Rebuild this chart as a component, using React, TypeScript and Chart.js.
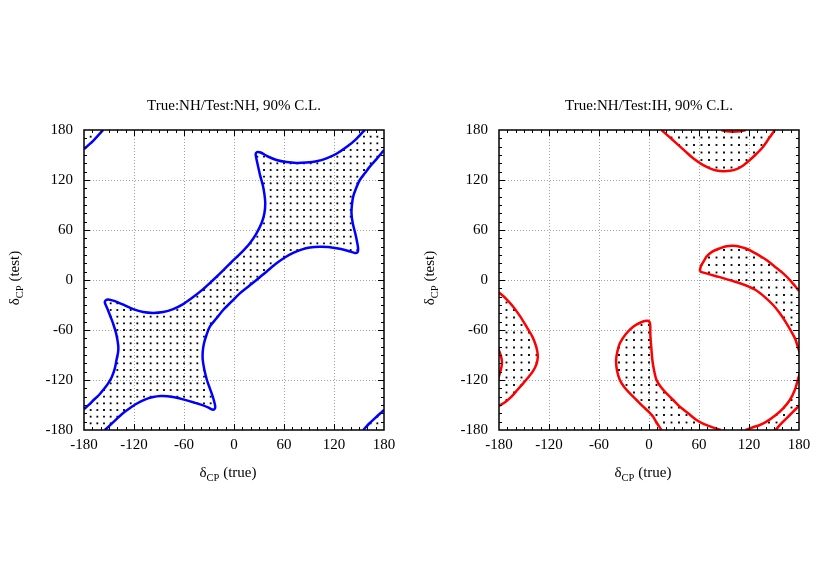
import React, { useEffect, useRef } from "react";
import { Chart, registerables } from "chart.js";

Chart.register(...registerables);

type Pt = [number, number];

// ---------- axes / text ----------
const AXIS_MIN = -180;
const AXIS_MAX = 180;
const AXIS_TICKS = [-180, -120, -60, 0, 60, 120, 180];
const MINOR_TICK_STEP = 10;
const TITLE_NH = "True:NH/Test:NH, 90% C.L.";
const TITLE_IH = "True:NH/Test:IH, 90% C.L.";
const X_LABEL = ["δ", "CP", " (true)"];
const Y_LABEL = ["δ", "CP", " (test)"];

// ---------- left panel: True NH / Test NH (blue contour) ----------
const nhUpper: Pt[] = [
  [-180, -155], [-174, -149.5], [-168.5, -144], [-162, -138], [-157, -132], [-151, -124],
  [-146.5, -116], [-143, -106], [-141, -96], [-139, -86], [-139, -78], [-141.5, -64],
  [-144.5, -54], [-147, -47], [-150.5, -38], [-153, -32], [-155, -27], [-154, -24.5],
  [-151, -23.5], [-146, -24.5], [-140, -26.5], [-131, -30.5], [-121, -35], [-109, -38.5],
  [-97, -39.5], [-85, -38.5], [-73, -35], [-61, -29], [-49, -20.5], [-37, -11], [-25, 0],
  [-13, 11.5], [-1, 23.5], [10, 34], [19, 44], [27, 56], [33, 68], [36.5, 80], [37.5, 92],
  [36.5, 103], [34.5, 114], [31.5, 125], [29, 136], [27, 145], [26, 151], [27.5, 153.5],
  [32, 153], [40, 148.5], [51, 144], [63, 141.5], [75, 140.5], [87, 141], [99, 142.5],
  [111, 146], [123, 151.5], [135, 159.5], [146, 168.5], [155, 178], [157, 180],
];
const nhLower: Pt[] = [
  [-155, -180], [-148, -173.5], [-141, -167], [-134, -160.5], [-126, -154.5], [-117, -148.5],
  [-107, -143.5], [-97, -140.5], [-88, -139.3], [-80, -139.5], [-70, -141], [-60, -143.5],
  [-48, -147], [-37, -150.5], [-30, -153.5], [-26, -155.5], [-23.5, -155], [-22.5, -152],
  [-23.5, -147], [-25.5, -140], [-29, -130], [-32.5, -120], [-35.5, -108], [-37.5, -96],
  [-37.5, -86], [-36, -76], [-33, -66], [-29, -56], [-21, -46], [-13, -36], [-3, -26],
  [7, -16], [17, -8], [27, 0], [39, 10], [51, 20], [61, 27], [71, 32.5], [81, 36.5],
  [91, 39], [103, 40], [113, 39.5], [123, 38], [133, 36], [140, 34], [145, 32.5], [148, 33],
  [149, 37], [148, 44], [145.5, 56], [142.5, 68], [141, 80], [141.5, 90], [143, 100],
  [146.5, 110], [151, 120], [157, 128], [163, 136], [171, 145], [178, 153.5], [180, 156],
];
const nhCornerTL: Pt[] = [[-157, 180], [-163, 173.5], [-169, 167], [-175, 161.5], [-180, 157]];
const nhCornerBR: Pt[] = [[180, -156], [175, -160.5], [169, -166], [162, -172.5], [155, -180]];
const NH_DOT_STEP = 8;

// ---------- right panel: True NH / Test IH (red contour) ----------
const ihTop: Pt[] = [
  [15, 180], [24, 172], [33, 164], [43, 155], [53, 146], [63, 139], [73, 134], [81, 131.5],
  [89, 130.5], [97, 131], [105, 133], [113, 137.5], [121, 144], [129, 151.5], [137, 160],
  [144, 170], [151, 180],
];
const ihTopArc: Pt[] = [[116, 180], [109, 178.4], [101, 177.9], [93, 178.4], [87, 180]];
const ihMid: Pt[] = [
  [15, -180], [9, -171], [5, -164], [-1, -157.5], [-7, -152], [-15, -144], [-23, -136],
  [-30, -128], [-35, -120], [-38.5, -108], [-39.5, -96], [-38, -86], [-35, -76], [-28, -65],
  [-19, -56], [-10, -51], [-3, -49], [0.5, -50], [1.5, -55], [1.5, -62], [2, -72], [3, -84],
  [4, -96], [6, -108], [9, -120], [14, -128], [21, -136], [29, -144], [37, -152], [47, -160],
  [57, -168], [66, -173], [74, -176], [80, -178], [86, -180],
];
const ihCRight: Pt[] = [
  [116, -180], [124, -177], [133, -174], [141, -170], [151, -163], [161, -154], [169, -144],
  [175, -132], [178.5, -120], [181, -112], [183, -104], [183.5, -98], [182.5, -92],
  [180.5, -86], [178.5, -80], [176, -72], [172, -64], [165, -52], [157, -40], [149, -30],
  [139, -20.5], [128, -12], [115, -6], [100, -1], [85, 3.5], [72, 7], [61, 10],
];
const ihOuter: Pt[] = [
  [61, 10], [61.5, 14], [63, 18], [66, 23], [69, 28], [76, 34], [85, 38], [93, 40.5],
  [101, 41], [109, 40], [117, 37.5], [125, 33.5], [133, 29], [141, 24], [151, 16], [161, 8],
  [170, -1], [180, -13],
];
const ihLeft: Pt[] = [
  [-180, -15], [-172, -22], [-163, -32], [-155, -43], [-147, -56], [-140, -68], [-136, -78],
  [-134, -86], [-133.5, -93], [-135, -101], [-139, -109], [-145, -117], [-151, -124],
  [-158, -132], [-165, -140], [-172, -146], [-180, -151],
];
const ihCornerBR: Pt[] = [[180, -151], [173, -158], [165, -166], [158, -173], [152, -180]];
const IH_DOT_STEP = 9;

// ---------- helpers ----------
const FONT = "'Liberation Serif', 'Times New Roman', Times, serif";

function inPoly(x: number, y: number, poly: Pt[]): boolean {
  let inside = false;
  for (let i = 0, j = poly.length - 1; i < poly.length; j = i++) {
    const [xi, yi] = poly[i];
    const [xj, yj] = poly[j];
    if (yi > y !== yj > y && x < ((xj - xi) * (y - yi)) / (yj - yi) + xi) inside = !inside;
  }
  return inside;
}

function hatch(step: number, keep: (x: number, y: number) => boolean) {
  const pts: { x: number; y: number }[] = [];
  for (let x = AXIS_MIN + step; x < AXIS_MAX - 1e-6; x += step)
    for (let y = AXIS_MIN + step; y < AXIS_MAX - 1e-6; y += step)
      if (keep(x, y)) pts.push({ x, y });
  return pts;
}

const nhExcluded: Pt[][] = [[...nhUpper, ...nhCornerTL], [...nhLower, ...nhCornerBR]];
const nhDots = hatch(NH_DOT_STEP, (x, y) => !nhExcluded.some((p) => inPoly(x, y, p)));

const ihAllowed: Pt[][] = [
  [...ihTop, ...ihTopArc],
  ihMid,
  [...ihOuter, ...ihCornerBR, ...ihCRight],
  ihLeft,
];
const ihDots = hatch(IH_DOT_STEP, (x, y) => ihAllowed.some((p) => inPoly(x, y, p)));
// the right-hand contour wraps around delta = +-180 (periodic axis)
const ihCRightWrapped: Pt[] = ihCRight.map(([x, y]) => [x - 360, y]);

function drawLabel(ctx: CanvasRenderingContext2D, parts: string[], cx: number, base: number) {
  const main = `15px ${FONT}`;
  const sub = `10.5px ${FONT}`;
  ctx.font = main;
  const w0 = ctx.measureText(parts[0]).width;
  const w2 = ctx.measureText(parts[2]).width;
  ctx.font = sub;
  const w1 = ctx.measureText(parts[1]).width;
  let x = cx - (w0 + w1 + w2) / 2;
  ctx.textAlign = "left";
  ctx.textBaseline = "alphabetic";
  ctx.font = main;
  ctx.fillText(parts[0], x, base);
  x += w0;
  ctx.font = sub;
  ctx.fillText(parts[1], x, base + 4);
  x += w1;
  ctx.font = main;
  ctx.fillText(parts[2], x, base);
}

type Spec = { title: string; color: string; curves: Pt[][]; dots: { x: number; y: number }[] };

function buildChart(canvas: HTMLCanvasElement, spec: Spec) {
  const framePlugin = {
    id: "gnuplotFrame",
    beforeDatasetsDraw(chart: any) {
      const { ctx, chartArea: a, scales } = chart;
      ctx.save();
      ctx.strokeStyle = "#a0a0a0";
      ctx.lineWidth = 1;
      ctx.setLineDash([1, 2]);
      for (const v of AXIS_TICKS) {
        if (v === AXIS_MIN || v === AXIS_MAX) continue;
        const px = Math.round(scales.x.getPixelForValue(v)) + 0.5;
        const py = Math.round(scales.y.getPixelForValue(v)) + 0.5;
        ctx.beginPath();
        ctx.moveTo(px, a.top);
        ctx.lineTo(px, a.bottom);
        ctx.moveTo(a.left, py);
        ctx.lineTo(a.right, py);
        ctx.stroke();
      }
      ctx.restore();
    },
    afterDatasetsDraw(chart: any) {
      const { ctx, chartArea: a, scales } = chart;
      ctx.save();
      ctx.strokeStyle = "#000";
      ctx.lineWidth = 1;
      ctx.beginPath();
      for (let v = AXIS_MIN + MINOR_TICK_STEP; v < AXIS_MAX; v += MINOR_TICK_STEP) {
        const len = AXIS_TICKS.includes(v) ? 6 : 3;
        const px = Math.round(scales.x.getPixelForValue(v)) + 0.5;
        const py = Math.round(scales.y.getPixelForValue(v)) + 0.5;
        ctx.moveTo(px, a.bottom);
        ctx.lineTo(px, a.bottom - len);
        ctx.moveTo(px, a.top);
        ctx.lineTo(px, a.top + len);
        ctx.moveTo(a.left, py);
        ctx.lineTo(a.left + len, py);
        ctx.moveTo(a.right, py);
        ctx.lineTo(a.right - len, py);
      }
      ctx.stroke();
      ctx.lineWidth = 1.5;
      ctx.strokeRect(a.left, a.top, a.right - a.left, a.bottom - a.top);
      ctx.restore();
    },
    afterDraw(chart: any) {
      const { ctx, chartArea: a } = chart;
      const cx = (a.left + a.right) / 2;
      const cy = (a.top + a.bottom) / 2;
      ctx.save();
      ctx.fillStyle = "#000";
      ctx.font = `15px ${FONT}`;
      ctx.textAlign = "center";
      ctx.textBaseline = "alphabetic";
      ctx.fillText(spec.title, cx, a.top - 20);
      drawLabel(ctx, X_LABEL, cx - 6, a.bottom + 47);
      ctx.translate(19, cy - 2);
      ctx.rotate(-Math.PI / 2);
      drawLabel(ctx, Y_LABEL, 0, 0);
      ctx.restore();
    },
  };

  const tickFont = { family: FONT, size: 15 };
  const fixedTicks = (s: any) => {
    s.ticks = AXIS_TICKS.map((value) => ({ value }));
  };

  return new Chart(canvas, {
    type: "scatter",
    data: {
      datasets: [
        ...spec.curves.map((c) => ({
          data: c.map(([x, y]) => ({ x, y })),
          showLine: true,
          borderColor: spec.color,
          backgroundColor: spec.color,
          borderWidth: 2.5,
          pointRadius: 0,
          tension: 0.3,
          fill: false,
          clip: 0,
          order: 0,
        })),
        {
          data: spec.dots,
          showLine: false,
          pointStyle: "rect",
          pointRadius: 1.3,
          backgroundColor: "#000",
          borderWidth: 0,
          order: 1,
        },
      ],
    } as any,
    options: {
      responsive: false,
      animation: false,
      devicePixelRatio: 1,
      events: [],
      layout: { padding: { left: 0, right: 31, top: 130, bottom: 121 } },
      elements: { line: { capBezierPoints: false } },
      plugins: { legend: { display: false }, tooltip: { enabled: false }, title: { display: false } },
      scales: {
        x: {
          type: "linear",
          min: AXIS_MIN,
          max: AXIS_MAX,
          afterBuildTicks: fixedTicks,
          afterFit: (s: any) => {
            s.height = 30;
          },
          grid: { display: false, drawTicks: false },
          border: { display: false },
          ticks: { color: "#000", font: tickFont, padding: 6, maxRotation: 0, autoSkip: false, callback: (v: any) => String(v) },
        },
        y: {
          type: "linear",
          min: AXIS_MIN,
          max: AXIS_MAX,
          afterBuildTicks: fixedTicks,
          afterFit: (s: any) => {
            s.width = 84;
          },
          grid: { display: false, drawTicks: false },
          border: { display: false },
          ticks: { color: "#000", font: tickFont, padding: 11, autoSkip: false, callback: (v: any) => String(v) },
        },
      },
    } as any,
    plugins: [framePlugin],
  });
}

function Panel({ spec, left }: { spec: Spec; left: number }) {
  const ref = useRef<HTMLCanvasElement | null>(null);
  useEffect(() => {
    if (!ref.current) return;
    const chart = buildChart(ref.current, spec);
    return () => chart.destroy();
  }, [spec]);
  return (
    <canvas
      ref={ref}
      width={415}
      height={581}
      style={{ position: "absolute", left, top: 0, width: 415, height: 581 }}
    />
  );
}

const NH_SPEC: Spec = {
  title: TITLE_NH,
  color: "#0000ff",
  curves: [nhUpper, nhLower, nhCornerTL, nhCornerBR],
  dots: nhDots,
};
const IH_SPEC: Spec = {
  title: TITLE_IH,
  color: "#ff0000",
  curves: [ihTop, ihTopArc, ihMid, ihCRight, ihCRightWrapped, ihOuter, ihLeft, ihCornerBR],
  dots: ihDots,
};

export default function App() {
  return (
    <div style={{ position: "absolute", left: 0, top: 0, width: 830, height: 581, background: "#fff" }}>
      <Panel spec={NH_SPEC} left={0} />
      <Panel spec={IH_SPEC} left={415} />
    </div>
  );
}
